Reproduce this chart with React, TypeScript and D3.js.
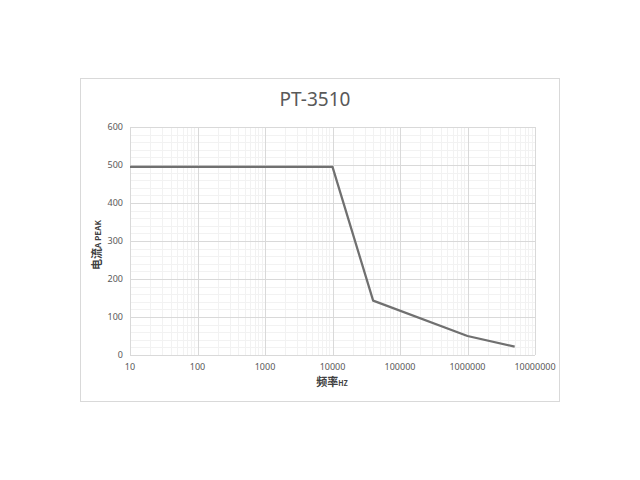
import React, { useRef, useEffect } from "react";
import * as d3 from "d3";

const freqHz = [10, 10000, 40000, 1000000, 5000000];
const currentA = [495, 495, 143, 50, 22];
const xTicks = [10, 100, 1000, 10000, 100000, 1000000, 10000000];
const yTicks = [0, 100, 200, 300, 400, 500, 600];
const title = "PT-3510";

export default function App() {
  const ref = useRef<SVGSVGElement | null>(null);

  useEffect(() => {
    if (!ref.current) return;
    const svg = d3.select(ref.current);
    svg.selectAll("*").remove();

    const plot = { left: 130, right: 535, top: 127, bottom: 355 };

    const x = d3.scaleLog().domain([10, 10000000]).range([plot.left, plot.right]);
    const y = d3.scaleLinear().domain([0, 600]).range([plot.bottom, plot.top]);

    // Rahmen
    svg.append("rect")
      .attr("x", 80.5).attr("y", 78.5)
      .attr("width", 479).attr("height", 323)
      .attr("fill", "white")
      .attr("stroke", "#d9d9d9");

    // Nebenlinien
    const minorX: number[] = [];
    for (let e = 1; e < 7; e++) {
      for (let k = 2; k < 10; k++) minorX.push(k * Math.pow(10, e));
    }
    const minorY = d3.range(0, 601, 20).filter((v) => v % 100 !== 0);

    const g = svg.append("g");
    g.selectAll(".minor-x").data(minorX).enter().append("line")
      .attr("x1", (d) => Math.round(x(d)) + 0.5).attr("x2", (d) => Math.round(x(d)) + 0.5)
      .attr("y1", plot.top).attr("y2", plot.bottom)
      .attr("stroke", "#f2f2f2");
    g.selectAll(".minor-y").data(minorY).enter().append("line")
      .attr("y1", (d) => Math.round(y(d)) + 0.5).attr("y2", (d) => Math.round(y(d)) + 0.5)
      .attr("x1", plot.left).attr("x2", plot.right)
      .attr("stroke", "#f2f2f2");

    // Hauptlinien
    g.selectAll(".major-x").data(xTicks).enter().append("line")
      .attr("x1", (d) => Math.round(x(d)) + 0.5).attr("x2", (d) => Math.round(x(d)) + 0.5)
      .attr("y1", plot.top).attr("y2", plot.bottom)
      .attr("stroke", "#d9d9d9");
    g.selectAll(".major-y").data(yTicks).enter().append("line")
      .attr("y1", (d) => Math.round(y(d)) + 0.5).attr("y2", (d) => Math.round(y(d)) + 0.5)
      .attr("x1", plot.left).attr("x2", plot.right)
      .attr("stroke", "#d9d9d9");

    // Tick labels
    g.selectAll(".x-label").data(xTicks).enter().append("text")
      .attr("x", (d) => x(d))
      .attr("y", plot.bottom + 15)
      .attr("text-anchor", "middle")
      .style("font-size", "9px")
      .style("font-family", "'Noto Sans', sans-serif")
      .attr("fill", "#595959")
      .text((d) => String(d));

    g.selectAll(".y-label").data(yTicks).enter().append("text")
      .attr("x", plot.left - 7)
      .attr("y", (d) => y(d) + 3)
      .attr("text-anchor", "end")
      .style("font-size", "9px")
      .style("font-family", "'Noto Sans', sans-serif")
      .attr("fill", "#595959")
      .text((d) => String(d));

    // Titel
    svg.append("text")
      .attr("x", 315).attr("y", 106)
      .attr("text-anchor", "middle")
      .style("font-size", "19px")
      .style("font-family", "'Noto Sans', sans-serif")
      .attr("fill", "#595959")
      .text(title);

    // Achsentitel
    const xt = svg.append("text")
      .attr("x", 332).attr("y", 386)
      .attr("text-anchor", "middle")
      .style("font-family", "'Noto Sans CJK SC', sans-serif")
      .style("font-weight", "bold")
      .attr("fill", "#404040");
    xt.append("tspan").style("font-size", "11px").text("频率");
    xt.append("tspan").style("font-size", "7px").text("HZ");

    const yt = svg.append("text")
      .attr("transform", "translate(101,245) rotate(-90)")
      .attr("text-anchor", "middle")
      .style("font-family", "'Noto Sans CJK SC', sans-serif")
      .style("font-weight", "bold")
      .attr("fill", "#404040");
    yt.append("tspan").style("font-size", "11px").text("电流");
    yt.append("tspan").style("font-size", "8px").text("A PEAK");

    // Kurve
    const pts = freqHz.map((f, i) => [f, currentA[i]] as [number, number]);
    const line = d3.line<[number, number]>()
      .x((d) => x(d[0]))
      .y((d) => y(d[1]));
    svg.append("path")
      .datum(pts)
      .attr("d", line)
      .attr("fill", "none")
      .attr("stroke", "#707070")
      .attr("stroke-width", 2.25)
      .attr("stroke-linejoin", "round");
  }, []);

  return (
    <div>
      <svg ref={ref} width={640} height={480} style={{ position: "absolute", left: 0, top: 0 }} />
    </div>
  );
}
